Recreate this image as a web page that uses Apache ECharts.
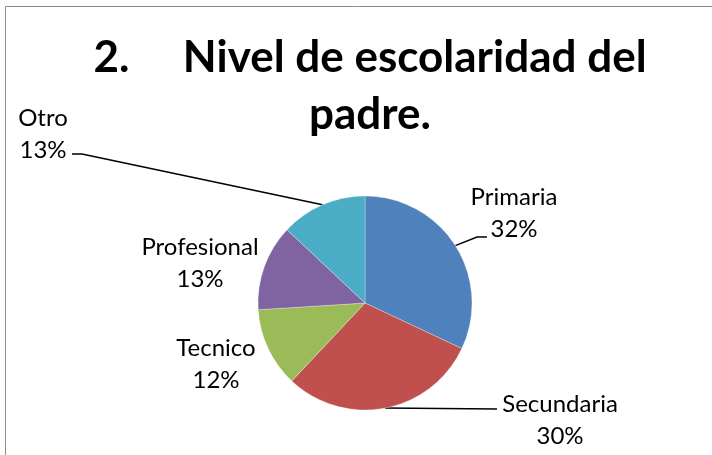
<!DOCTYPE html>
<html>
<head>
    <meta charset="utf-8">
    <title>Nivel de escolaridad del padre</title>
    <script src="https://cdn.jsdelivr.net/npm/echarts@6/dist/echarts.min.js"></script>
    <style>
        html, body { margin: 0; padding: 0; background: #fff; }
        #chart { width: 712px; height: 455px; }
    </style>
</head>
<body>
    <div id="chart"></div>

    <script>
    // datos de la gráfica
    const categories = ['Primaria', 'Secundaria', 'Tecnico', 'Profesional', 'Otro'];
    const values = [32, 30, 12, 13, 13];
    const colors = ['#4F81BD', '#C0504D', '#9BBB59', '#8064A2', '#4BACC6'];

    // posición de cada etiqueta (centro) y codo de la línea guía
    const labelSpots = [
        { x: 514, y: 213, elbow: [477, 237], end: [487, 237] },
        { x: 560, y: 420, elbow: [497, 409], end: [497, 409] },
        { x: 216, y: 364, elbow: null },
        { x: 200, y: 263, elbow: null },
        { x: 43, y: 134, elbow: [82, 154], end: [72, 154] }
    ];

    const chart = echarts.init(document.getElementById('chart'));

    const pieData = categories.map((name, i) => ({
        name: name,
        value: values[i],
        itemStyle: { color: colors[i] },
        labelLine: { show: !!labelSpots[i].elbow }
    }));

    chart.setOption({
        animation: false,
        title: {
            text: '2.     Nivel de escolaridad del\npadre.',
            left: 365,
            top: 24,
            textAlign: 'center',
            textStyle: {
                fontFamily: 'Lato',
                fontWeight: 'bold',
                fontSize: 44,
                lineHeight: 57,
                color: '#000'
            }
        },
        graphic: [{
            type: 'rect',
            shape: { x: 5.5, y: 6.5, width: 720, height: 460 },
            style: { fill: 'none', stroke: '#8c8c8c', lineWidth: 1 },
            silent: true
        }],
        series: [{
            type: 'pie',
            center: [365, 303],
            radius: 107,
            startAngle: 90,
            clockwise: true,
            data: pieData,
            itemStyle: { borderColor: 'rgba(255,255,255,0.6)', borderWidth: 0.5 },
            label: {
                show: true,
                formatter: p => p.name + '\n' + Math.round(p.percent) + '%',
                fontFamily: 'Lato',
                fontSize: 24,
                lineHeight: 32,
                color: '#000',
                align: 'center'
            },
            labelLine: {
                show: true,
                lineStyle: { color: '#000', width: 1.5 }
            },
            labelLayout: function (params) {
                const s = labelSpots[params.dataIndex];
                const out = { x: s.x, y: s.y, align: 'center', verticalAlign: 'middle' };
                if (s.elbow && params.labelLinePoints) {
                    out.labelLinePoints = [params.labelLinePoints[0], s.elbow, s.end];
                }
                return out;
            }
        }]
    });
    </script>
</body>
</html>
